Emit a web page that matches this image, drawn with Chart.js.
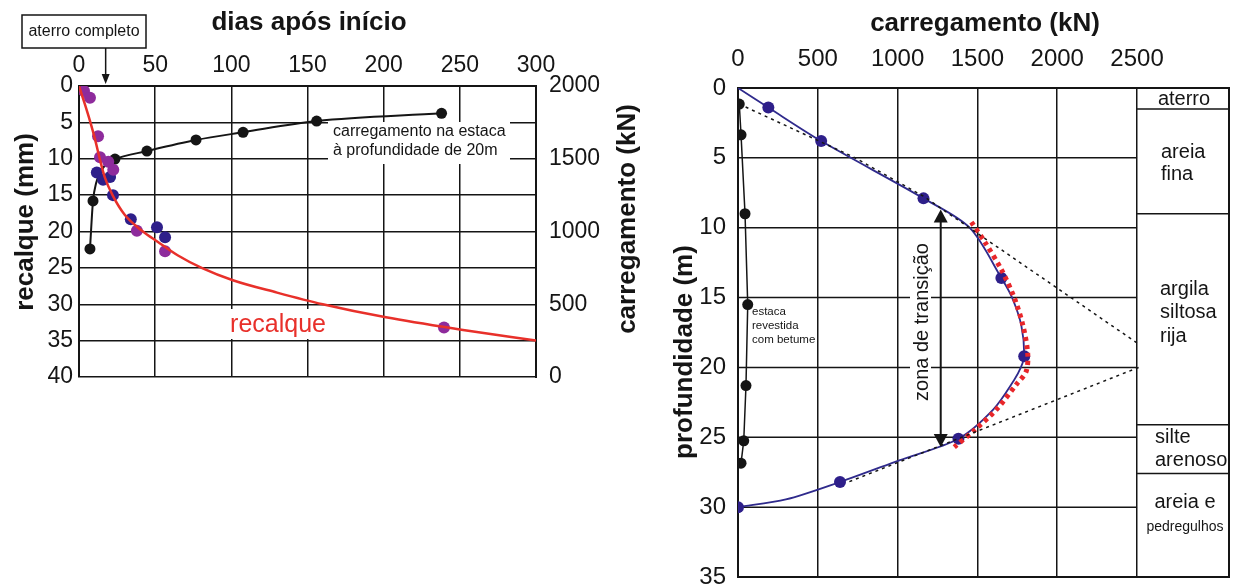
<!DOCTYPE html>
<html>
<head>
<meta charset="utf-8">
<script src="https://cdn.jsdelivr.net/npm/chart.js@4.4.1/dist/chart.umd.min.js"></script>
<style>
  html, body { margin: 0; padding: 0; background: #fff; }
  #wrap { position: relative; width: 1236px; height: 585px; }
  #left { position: absolute; left: 0; top: 0; }
  #right { position: absolute; left: 618px; top: 0; }
</style>
</head>
<body>
<div id="wrap">
  <canvas id="left" width="660" height="585"></canvas>
  <canvas id="right" width="618" height="585"></canvas>
</div>
<script>
// ---------- painel esquerdo: recalque / carregamento x tempo ----------
const diasTicks = [0, 50, 100, 150, 200, 250, 300];
const recalqueTicks = [0, 5, 10, 15, 20, 25, 30, 35, 40];
const cargaTicks = [0, 500, 1000, 1500, 2000];

// curva de recalque (vermelha)
const recalqueDias = [0, 4, 7.2, 10.5, 13.5, 17, 22, 30, 42, 51.6, 65, 80.5, 101, 130, 160, 201.5, 251, 300];
const recalqueMm = [0, 2.6, 4.8, 7.3, 9.9, 12.6, 15, 17.7, 20, 21.4, 23.3, 25, 26.7, 28.4, 30.0, 31.8, 33.5, 35];

// medidas de recalque (roxo e azul)
const roxoDias = [3.3, 7.2, 12.5, 13.8, 19.2, 22.5, 38, 56.5, 239.6];
const roxoMm = [0.7, 1.6, 6.9, 9.8, 10.4, 11.5, 19.9, 22.7, 33.2];
const azulDias = [11.7, 15.8, 20.4, 22.3, 34, 51.2, 56.5];
const azulMm = [11.9, 12.9, 12.5, 15.0, 18.3, 19.4, 20.8];

// carregamento na estaca a 20 m (preto), 1 = ponto medido
const cargaDias = [7.2, 9.2, 11.2, 13.8, 18.2, 23.6, 44.6, 76.8, 107.7, 156, 238];
const cargaKN = [880, 1210, 1331, 1400, 1469, 1498, 1553, 1629, 1682, 1759, 1812];
const cargaPonto = [1, 1, 0, 0, 0, 1, 1, 1, 1, 1, 1];

const aterroDia = 17.5;

// ---------- painel direito: carregamento x profundidade ----------
const kNTicks = [0, 500, 1000, 1500, 2000, 2500];
const profTicks = [0, 5, 10, 15, 20, 25, 30, 35];

const curvaKN = [0, 190, 521, 1162, 1451, 1650, 1717, 1775, 1793, 1772, 1730, 1600, 1381, 1010, 639, 300, 0];
const curvaProf = [0, 1.4, 3.8, 7.9, 10, 13.6, 15, 17, 19.2, 20, 20.9, 23, 25.1, 26.65, 28.2, 29.45, 30];
const curvaPonto = [0, 1, 1, 1, 0, 1, 0, 0, 1, 0, 0, 0, 1, 0, 1, 0, 1];

const betumeKN = [8, 19, 44, 61, 50, 36, 19];
const betumeProf = [1.15, 3.35, 9.0, 15.5, 21.3, 25.25, 26.85];

const tracoSupKN = [8, 724, 1162, 2519];
const tracoSupProf = [1.15, 4.94, 7.75, 18.4];
const tracoInfKN = [2510, 692];
const tracoInfProf = [20.0, 28.2];

const vermKN = [1462, 1545, 1650, 1730, 1785, 1815, 1805, 1745, 1620, 1480, 1355];
const vermProf = [9.6, 11, 13, 15, 17, 19, 20.3, 21.2, 23, 24.5, 25.7];

const camadaLimites = [0, 1.5, 9.0, 24.1, 27.6, 35];
const camadaNomes = [["aterro"], ["areia", "fina"], ["argila", "siltosa", "rija"], ["silte", "arenoso"], ["areia e", "pedregulhos"]];

const zonaKN = 1270;
const zonaTopo = 8.7;
const zonaBase = 25.7;

const FONT = '"Liberation Sans", Arial, Helvetica, sans-serif';
const INK = '#151515';
Chart.defaults.font.family = FONT;
Chart.defaults.color = INK;

const xy = (xs, ys) => xs.map((x, i) => ({ x: x, y: ys[i] }));
const fixTicks = list => scale => { scale.ticks = list.map(v => ({ value: v })); };
const plain = v => String(v);

function rotText(ctx, text, x, y, font) {
  ctx.save();
  ctx.translate(x, y);
  ctx.rotate(-Math.PI / 2);
  ctx.font = font;
  ctx.textAlign = 'center';
  ctx.textBaseline = 'alphabetic';
  ctx.fillText(text, 0, 0);
  ctx.restore();
}

function arrowHead(ctx, x, tipY, dir, w, h) {
  ctx.beginPath();
  ctx.moveTo(x, tipY);
  ctx.lineTo(x - w, tipY - dir * h);
  ctx.lineTo(x + w, tipY - dir * h);
  ctx.closePath();
  ctx.fill();
}

const leftDecor = {
  id: 'leftDecor',
  beforeDatasetsDraw(chart) {
    const { ctx } = chart;
    ctx.save();
    ctx.fillStyle = '#fff';
    ctx.fillRect(328, 122, 182, 42);
    ctx.fillRect(226, 309, 104, 30);
    ctx.restore();
  },
  afterDraw(chart) {
    const { ctx, scales: { x } } = chart;
    ctx.save();
    ctx.fillStyle = INK;
    ctx.strokeStyle = INK;

    // titulos
    ctx.font = 'bold 26px ' + FONT;
    ctx.textAlign = 'center';
    ctx.textBaseline = 'alphabetic';
    ctx.fillText('dias após início', 309, 30);
    rotText(ctx, 'recalque (mm)', 33, 222, 'bold 26px ' + FONT);
    rotText(ctx, 'carregamento (kN)', 635, 219, 'bold 26px ' + FONT);

    // aterro completo
    ctx.lineWidth = 1.5;
    ctx.strokeRect(22, 15, 124, 33);
    ctx.font = '16px ' + FONT;
    ctx.textBaseline = 'middle';
    ctx.fillText('aterro completo', 84, 32);
    const ax = x.getPixelForValue(aterroDia);
    ctx.beginPath();
    ctx.moveTo(ax, 48);
    ctx.lineTo(ax, 76);
    ctx.stroke();
    arrowHead(ctx, ax, 84, 1, 4, 10);

    // textos internos
    ctx.textAlign = 'left';
    ctx.font = '16px ' + FONT;
    ctx.fillText('carregamento na estaca', 333, 132);
    ctx.fillText('à profundidade de 20m', 333, 151);
    ctx.textAlign = 'center';
    ctx.fillStyle = '#e8302a';
    ctx.font = '25px ' + FONT;
    ctx.fillText('recalque', 278, 325);
    ctx.restore();
  }
};

new Chart(document.getElementById('left'), {
  type: 'scatter',
  data: {
    datasets: [
      {
        data: xy(recalqueDias, recalqueMm), yAxisID: 'y', showLine: true,
        borderColor: '#e8302a', borderWidth: 2.5, pointRadius: 0,
        cubicInterpolationMode: 'monotone'
      },
      {
        data: xy(roxoDias, roxoMm), yAxisID: 'y', showLine: false,
        pointRadius: 6, backgroundColor: '#8e2b9c', borderWidth: 0
      },
      {
        data: xy(azulDias, azulMm), yAxisID: 'y', showLine: false,
        pointRadius: 6, backgroundColor: '#2e1f8a', borderWidth: 0
      },
      {
        data: xy(cargaDias, cargaKN), yAxisID: 'y2', showLine: true,
        borderColor: INK, borderWidth: 2,
        pointRadius: c => cargaPonto[c.dataIndex] ? 5.5 : 0,
        backgroundColor: INK, pointBorderWidth: 0,
        cubicInterpolationMode: 'monotone'
      }
    ]
  },
  options: {
    responsive: false,
    devicePixelRatio: 1,
    animation: false,
    layout: { padding: { left: 0, right: 0, top: 0, bottom: 208 } },
    plugins: { legend: { display: false }, tooltip: { enabled: false } },
    scales: {
      x: {
        type: 'linear', position: 'top', min: 0, max: 300,
        afterBuildTicks: fixTicks(diasTicks),
        afterFit: s => { s.height = 86; },
        ticks: { font: { size: 23 }, color: INK, padding: 7, callback: plain },
        grid: { color: INK, lineWidth: 1.5, drawTicks: false },
        border: { color: INK, width: 2 }
      },
      y: {
        type: 'linear', position: 'left', reverse: true, min: 0, max: 40,
        afterBuildTicks: fixTicks(recalqueTicks),
        afterFit: s => { s.width = 79; },
        ticks: { font: { size: 23 }, color: INK, padding: 6, callback: plain },
        grid: { color: INK, lineWidth: 1.5, drawTicks: false },
        border: { color: INK, width: 2 }
      },
      y2: {
        type: 'linear', position: 'right', min: 0, max: 2000,
        afterBuildTicks: fixTicks(cargaTicks),
        afterFit: s => { s.width = 124; },
        ticks: { font: { size: 23 }, color: INK, padding: 13, callback: plain },
        grid: { display: false, drawTicks: false },
        border: { color: INK, width: 2 }
      }
    }
  },
  plugins: [leftDecor]
});

// faixa da pagina ocupada pelo texto "zona de transicao"
const zonaTextoTopo = 236;
const zonaTextoBase = 410;

const rightDecor = {
  id: 'rightDecor',
  beforeDatasetsDraw(chart) {
    const { ctx, chartArea: a, scales: { x, y } } = chart;
    const xTab = x.getPixelForValue(2500);
    ctx.save();
    ctx.fillStyle = '#fff';
    ctx.fillRect(910 - 618, zonaTextoTopo, 21, zonaTextoBase - zonaTextoTopo);
    ctx.strokeStyle = INK;
    ctx.lineWidth = 1.5;
    profTicks.forEach(v => {
      const py = y.getPixelForValue(v);
      ctx.beginPath();
      if (py > zonaTextoTopo && py < zonaTextoBase) {
        // deixa o espaco do texto da zona de transicao
        ctx.moveTo(a.left, py); ctx.lineTo(910 - 618, py);
        ctx.moveTo(931 - 618, py); ctx.lineTo(xTab, py);
      } else {
        ctx.moveTo(a.left, py); ctx.lineTo(xTab, py);
      }
      ctx.stroke();
    });
    camadaLimites.forEach(v => {
      const py = y.getPixelForValue(v);
      ctx.beginPath();
      ctx.moveTo(xTab, py); ctx.lineTo(a.right, py);
      ctx.stroke();
    });
    ctx.lineWidth = 2;
    ctx.strokeRect(a.left, a.top, a.right - a.left, a.bottom - a.top);
    ctx.restore();
  },
  afterDraw(chart) {
    const { ctx, scales: { x, y } } = chart;
    ctx.save();
    ctx.fillStyle = INK;
    ctx.strokeStyle = INK;

    // seta dupla da zona de transicao
    const ax = x.getPixelForValue(zonaKN);
    const y1 = y.getPixelForValue(zonaTopo);
    const y2 = y.getPixelForValue(zonaBase);
    ctx.lineWidth = 2;
    ctx.beginPath();
    ctx.moveTo(ax, y1 + 8); ctx.lineTo(ax, y2 - 8);
    ctx.stroke();
    arrowHead(ctx, ax, y1, -1, 7, 13);
    arrowHead(ctx, ax, y2, 1, 7, 13);

    ctx.translate(-618, 0);
    rotText(ctx, 'zona de transição', 928, 322, '20px ' + FONT);

    ctx.font = '11.5px ' + FONT;
    ctx.textAlign = 'left';
    ctx.textBaseline = 'middle';
    ['estaca', 'revestida', 'com betume'].forEach((t, i) => ctx.fillText(t, 752, 312 + i * 14));

    // camadas
    const pos = [
      { x: 1184, y: [99], c: true },
      { x: 1161, y: [152, 174] },
      { x: 1160, y: [289, 312, 336] },
      { x: 1155, y: [437, 460] },
      { x: 1185, y: [502, 527], c: true }
    ];
    camadaNomes.forEach((linhas, i) => {
      const p = pos[i];
      ctx.textAlign = p.c ? 'center' : 'left';
      linhas.forEach((t, j) => {
        ctx.font = (t === 'pedregulhos' ? '14px ' : '20px ') + FONT;
        ctx.fillText(t, p.x, p.y[j]);
      });
    });

    // titulos
    ctx.font = 'bold 26px ' + FONT;
    ctx.textAlign = 'center';
    ctx.textBaseline = 'alphabetic';
    ctx.fillText('carregamento (kN)', 985, 31);
    rotText(ctx, 'profundidade (m)', 692, 352, 'bold 26px ' + FONT);
    ctx.restore();
  }
};

new Chart(document.getElementById('right'), {
  type: 'scatter',
  data: {
    datasets: [
      {
        data: xy(tracoSupKN, tracoSupProf), showLine: true, pointRadius: 0,
        borderColor: INK, borderWidth: 1.5, borderDash: [3, 4]
      },
      {
        data: xy(tracoInfKN, tracoInfProf), showLine: true, pointRadius: 0,
        borderColor: INK, borderWidth: 1.5, borderDash: [3, 4]
      },
      {
        data: xy(vermKN, vermProf), showLine: true, pointRadius: 0,
        borderColor: '#e8262a', borderWidth: 5, borderDash: [4, 4], tension: 0.3
      },
      {
        data: xy(curvaKN, curvaProf), showLine: true,
        borderColor: '#2f2a8c', borderWidth: 1.8, tension: 0.3,
        pointRadius: c => curvaPonto[c.dataIndex] ? 6 : 0,
        backgroundColor: '#2e1f8a', pointBorderWidth: 0
      },
      {
        data: xy(betumeKN, betumeProf), showLine: true,
        borderColor: INK, borderWidth: 1.5, pointRadius: 5.5,
        backgroundColor: INK, pointBorderWidth: 0
      }
    ]
  },
  options: {
    responsive: false,
    devicePixelRatio: 1,
    animation: false,
    layout: { padding: { left: 0, right: 7, top: 0, bottom: 8 } },
    plugins: { legend: { display: false }, tooltip: { enabled: false } },
    scales: {
      x: {
        type: 'linear', position: 'top', min: 0, max: 3076,
        afterBuildTicks: fixTicks(kNTicks),
        afterFit: s => { s.height = 88; s.paddingLeft = 0; s.paddingRight = 0; },
        ticks: { font: { size: 24 }, color: INK, padding: 14, callback: plain },
        grid: { color: INK, lineWidth: 1.5, drawTicks: false },
        border: { color: INK, width: 2 }
      },
      y: {
        type: 'linear', position: 'left', reverse: true, min: 0, max: 35,
        afterBuildTicks: fixTicks(profTicks),
        afterFit: s => { s.width = 120; s.paddingTop = 0; s.paddingBottom = 0; },
        ticks: { font: { size: 24 }, color: INK, padding: 12, callback: plain },
        grid: { display: false, drawTicks: false },
        border: { color: INK, width: 2 }
      }
    }
  },
  plugins: [rightDecor]
});
</script>
</body>
</html>
